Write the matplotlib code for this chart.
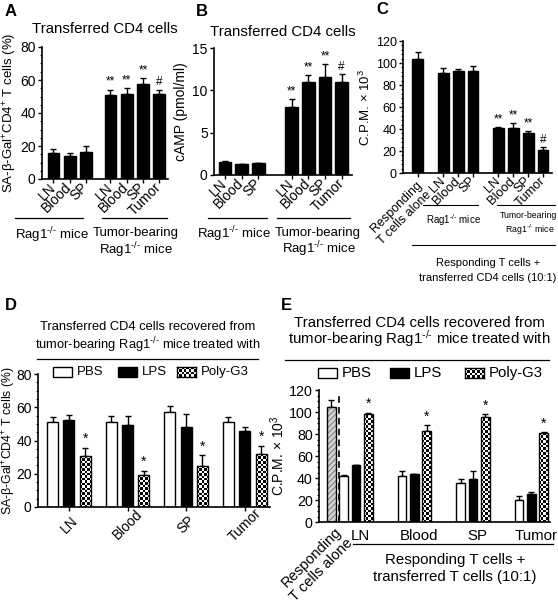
import numpy as np
import matplotlib
matplotlib.use("Agg")
import matplotlib.pyplot as plt
from matplotlib.lines import Line2D
from matplotlib.patches import Rectangle
from matplotlib.ticker import MultipleLocator

plt.rcParams["font.family"] = ["Liberation Sans", "DejaVu Sans"]
plt.rcParams["mathtext.fontset"] = "custom"
plt.rcParams["mathtext.rm"] = "Liberation Sans"
plt.rcParams["mathtext.it"] = "Liberation Sans:italic"
plt.rcParams["hatch.linewidth"] = 0.8

# ---------------- data ----------------
# panel A: SA-b-Gal+ CD4+ T cells (%)
a_labels = ["LN", "Blood", "SP", "LN", "Blood", "SP", "Tumor"]
a_vals = [15.9, 14.1, 16.5, 51.2, 51.6, 57.5, 51.6]
a_err = [2.4, 1.4, 3.8, 3.0, 3.6, 3.6, 2.6]
a_marks = ["", "", "", "**", "**", "**", "#"]

# panel B: cAMP (pmol/ml)
b_labels = ["LN", "Blood", "SP", "LN", "Blood", "SP", "Tumor"]
b_vals = [1.58, 1.26, 1.38, 8.0, 10.97, 11.57, 10.94]
b_err = [0.08, 0.08, 0.08, 0.96, 0.87, 1.54, 0.95]
b_marks = ["", "", "", "**", "**", "**", "#"]

# panel C: C.P.M. x 10^3
c_labels = ["Responding\nT cells alone", "LN", "Blood", "SP", "LN", "Blood", "SP", "Tumor"]
c_vals = [104, 91, 92.6, 92.9, 40.7, 41.3, 36.2, 20.5]
c_err = [6, 4, 1.8, 4.8, 1.5, 4.5, 2.4, 2.7]
c_marks = ["", "", "", "", "**", "**", "**", "#"]

# panels D and E
tissues = ["LN", "Blood", "SP", "Tumor"]
treatments = ["PBS", "LPS", "Poly-G3"]

d_pbs = [50.9, 51.3, 56.9, 51.3]
d_pbs_err = [3.0, 3.4, 3.6, 2.6]
d_lps = [52.3, 49.6, 48.2, 45.6]
d_lps_err = [3.2, 5.1, 7.7, 2.6]
d_poly = [30.6, 19.1, 24.5, 31.6]
d_poly_err = [5.0, 2.6, 6.7, 5.2]

e_alone_label = "Responding\nT cells alone"
e_alone = 104.8
e_alone_err = 6.1
e_pbs = [41.6, 42.0, 35.9, 20.4]
e_pbs_err = [0.9, 4.5, 3.6, 3.6]
e_lps = [51.7, 43.2, 39.2, 25.8]
e_lps_err = [0.0, 0.3, 7.0, 1.5]
e_poly = [98.2, 83.0, 95.7, 80.5]
e_poly_err = [1.2, 5.0, 2.2, 1.0]

RAG = "Rag1$^{\u2010/\u2010}$ mice"
SA_LABEL = "SA-β-Gal$^{+}$CD4$^{+}$ T cells (%)"
CPM_LABEL = "C.P.M. × 10$^{3}$"

# ---------------- helpers ----------------
W, H = 558, 606
fig = plt.figure(figsize=(W / 100, H / 100), dpi=100)


def fx(px):
    return px / W


def fy(py):
    return 1 - py / H


def px_box(l, t, r, b):
    return [l / W, 1 - b / H, (r - l) / W, (b - t) / H]


def ftext(x, y, s, size=9.5, **kw):
    kw.setdefault("ha", "center")
    kw.setdefault("va", "center")
    fig.text(fx(x), fy(y), s, fontsize=size, **kw)


def fline(x0, x1, y, lw=0.9):
    fig.add_artist(Line2D([fx(x0), fx(x1)], [fy(y), fy(y)],
                          transform=fig.transFigure, color="black", lw=lw))


def checker(nx, ny):
    X, Y = np.meshgrid(np.arange(nx), np.arange(ny))
    return (X + Y) % 2


def style_axes(ax, xlim, ymax, major, minor=None, fs=10):
    ax.set_xlim(*xlim)
    ax.set_ylim(0, ymax)
    for s in ["top", "right"]:
        ax.spines[s].set_visible(False)
    for s in ["left", "bottom"]:
        ax.spines[s].set_linewidth(1.2)
    ax.yaxis.set_major_locator(MultipleLocator(major))
    if minor:
        ax.yaxis.set_minor_locator(MultipleLocator(minor))
    ax.tick_params(axis="both", which="major", length=3, width=1,
                   labelsize=fs, pad=1.5)
    ax.tick_params(axis="y", which="minor", length=1.8, width=0.8)


def errs(ax, x, vals, err, cap=2.3):
    ax.errorbar(x, vals, yerr=[np.zeros(len(vals)), err], fmt="none",
                ecolor="black", elinewidth=1, capsize=cap, capthick=1, zorder=1)


def checker_bars(ax, x, vals, width, cell=2.4):
    bars = ax.bar(x, vals, width, facecolor="none", edgecolor="black",
                  lw=1, zorder=3)
    for r in bars:
        x0, y0 = r.get_x(), r.get_y()
        w, h = r.get_width(), r.get_height()
        (p0x, p0y), (p1x, p1y) = ax.transData.transform([(x0, y0), (x0 + w, y0 + h)])
        nx = max(1, int(round(abs(p1x - p0x) / cell)))
        ny = max(1, int(round(abs(p1y - p0y) / cell)))
        im = ax.imshow(checker(nx, ny), cmap="gray", vmin=0, vmax=1,
                       extent=(x0, x0 + w, y0, y0 + h), aspect="auto",
                       interpolation="nearest", zorder=2)
        im.set_clip_path(r)
    return bars


def marks(ax, x, vals, err, labels, off, size=8.5):
    for xi, v, e, m in zip(x, vals, err, labels):
        if m:
            ax.text(xi, v + e + off, m, ha="center", va="bottom", fontsize=size)


def slanted_label(ax, x, text, dx, dy, size):
    # two-line rotated label hanging below the x axis
    ax.annotate(text, xy=(x, 0), xytext=(dx, dy), textcoords="offset points",
                rotation=45, ha="right", va="center", rotation_mode="anchor",
                fontsize=size, annotation_clip=False)


def legend_row(y, xs, size=10):
    # white box, black box, checker box followed by labels
    bw, bh = 19, 10
    for i, (x, name) in enumerate(zip(xs, treatments)):
        if i < 2:
            fig.add_artist(Rectangle((fx(x), fy(y + bh / 2)), fx(bw), bh / H,
                                     transform=fig.transFigure,
                                     facecolor="white" if i == 0 else "black",
                                     edgecolor="black", lw=1))
        else:
            lax = fig.add_axes(px_box(x, y - bh / 2, x + bw, y + bh / 2))
            lax.imshow(checker(8, 4), cmap="gray", vmin=0, vmax=1,
                       aspect="auto", interpolation="nearest")
            lax.set_xticks([])
            lax.set_yticks([])
            for s in lax.spines.values():
                s.set_linewidth(1)
        ftext(x + bw + 5, y, name, size=size, ha="left")


# ---------------- panel A ----------------
ax = fig.add_axes(px_box(42, 47, 168, 179))
xa = np.r_[np.arange(3), np.arange(4) + 3.5]
style_axes(ax, (-0.7, 7.04), 80, 20, 5)
errs(ax, xa, a_vals, a_err)
ax.bar(xa, a_vals, 0.72, color="black", edgecolor="black", lw=1, zorder=2)
marks(ax, xa, a_vals, a_err, a_marks, 1.0)
ax.set_xticks(xa)
ax.set_xticklabels(a_labels, rotation=45, ha="right", va="center",
                   rotation_mode="anchor")
ax.set_ylabel(SA_LABEL, fontsize=9.5, labelpad=0.5)
ax.set_title("Transferred CD4 cells", fontsize=10.8, pad=10)
fline(15, 83, 218)
fline(102, 167, 218)
ftext(52, 235, RAG)
ftext(136, 233, "Tumor-bearing")
ftext(136, 250, RAG)
ftext(11, 12, "A", size=12, weight="bold")

# ---------------- panel B ----------------
ax = fig.add_axes(px_box(214, 48, 352, 175))
xb = np.r_[np.arange(3), np.arange(4) + 4]
style_axes(ax, (-0.66, 7.62), 15, 5)
errs(ax, xb, b_vals, b_err)
ax.bar(xb, b_vals, 0.76, color="black", edgecolor="black", lw=1, zorder=2)
marks(ax, xb, b_vals, b_err, b_marks, 0.2)
ax.set_xticks(xb)
ax.set_xticklabels(b_labels, rotation=45, ha="right", va="center",
                   rotation_mode="anchor")
ax.set_ylabel("cAMP (pmol/ml)", fontsize=10, labelpad=3)
ax.set_title("Transferred CD4 cells", fontsize=10.8, pad=9)
fline(208, 267, 218)
fline(277, 350, 218)
ftext(234, 234, RAG)
ftext(318, 233, "Tumor-bearing")
ftext(319, 249, RAG)
ftext(202, 12, "B", size=12, weight="bold")

# ---------------- panel C ----------------
ax = fig.add_axes(px_box(403, 41, 552, 173))
xc = np.r_[0, np.arange(3) + 1.7, np.arange(4) + 5.4]
style_axes(ax, (-1.0, 9.0), 120, 20, 4, fs=9)
errs(ax, xc, c_vals, c_err)
ax.bar(xc, c_vals, 0.73, color="black", edgecolor="black", lw=1, zorder=2)
marks(ax, xc, c_vals, c_err, c_marks, 1.0)
ax.set_xticks(xc)
ax.set_xticklabels([""] + c_labels[1:], rotation=45, ha="right", va="center",
                   rotation_mode="anchor", fontsize=9.3)
slanted_label(ax, xc[0], c_labels[0], 5, -11, 9)
ax.set_ylabel(CPM_LABEL, fontsize=9.5, labelpad=2)
fline(423, 478, 205, lw=0.8)
fline(497, 555, 205, lw=0.8)
ftext(453, 220, RAG, size=7)
ftext(528, 215, "Tumor-bearing", size=6.3)
ftext(530, 230, RAG, size=6.3)
fline(412, 555, 245, lw=0.8)
ftext(488, 263, "Responding T cells +", size=8)
ftext(488, 278, "transferred CD4 cells (10:1)", size=8)
ftext(382, 10, "C", size=12, weight="bold")

# ---------------- panel D ----------------
ax = fig.add_axes(px_box(38, 374, 270, 507))
dc = 1 + 3.6 * np.arange(len(tissues))
style_axes(ax, (-0.9, 13.35), 80, 20, 5)
errs(ax, dc - 1, d_pbs, d_pbs_err)
errs(ax, dc, d_lps, d_lps_err)
errs(ax, dc + 1, d_poly, d_poly_err)
ax.bar(dc - 1, d_pbs, 0.68, color="white", edgecolor="black", lw=1, zorder=2)
ax.bar(dc, d_lps, 0.68, color="black", edgecolor="black", lw=1, zorder=2)
checker_bars(ax, dc + 1, d_poly, 0.68)
marks(ax, dc + 1, d_poly, d_poly_err, ["*"] * 4, 1.0, size=10)
ax.set_xlim(-0.9, 13.35)
ax.set_ylim(0, 80)
ax.set_xticks(dc)
ax.set_xticklabels(tissues, rotation=45, ha="center", va="center")
ax.tick_params(axis="x", pad=10)
ax.set_ylabel(SA_LABEL, fontsize=8.8)
ax.yaxis.set_label_coords(-0.088, 0.5)
ftext(148, 327, "Transferred CD4 cells recovered from", size=9.3)
ftext(148, 345, "tumor-bearing " + RAG + " treated with", size=9.3)
fline(37, 258, 359)
legend_row(372, [53, 118, 177], size=9.5)
ftext(11, 306, "D", size=12, weight="bold")

# ---------------- panel E ----------------
ax = fig.add_axes(px_box(319, 390, 550, 522))
ec = 2 + 4.75 * np.arange(len(tissues))
style_axes(ax, (-1.0, 17.76), 120, 20, 5, fs=10.3)
errs(ax, [0], [e_alone], [e_alone_err], cap=2)
errs(ax, ec - 1, e_pbs, e_pbs_err, cap=2)
errs(ax, ec, e_lps, e_lps_err, cap=2)
errs(ax, ec + 1, e_poly, e_poly_err, cap=2)
ax.bar([0], [e_alone], 0.7, facecolor="#d4d4d4", edgecolor="#808080",
       hatch="//////", lw=0, zorder=2)
ax.bar([0], [e_alone], 0.7, facecolor="none", edgecolor="black", lw=1, zorder=3)
ax.bar(ec - 1, e_pbs, 0.7, color="white", edgecolor="black", lw=1, zorder=2)
ax.bar(ec, e_lps, 0.7, color="black", edgecolor="black", lw=1, zorder=2)
checker_bars(ax, ec + 1, e_poly, 0.7)
marks(ax, ec + 1, e_poly, e_poly_err, ["*"] * 4, 1.5, size=10)
ax.plot([0.6, 0.6], [0, 118], ls=(0, (4, 2.5)), color="black", lw=1.2, zorder=4)
ax.set_xlim(-1.0, 17.76)
ax.set_ylim(0, 120)
ax.set_xticks(np.r_[0, ec + 0.35])
ax.set_xticklabels([""] + tissues, fontsize=10.8)
ax.tick_params(axis="x", length=0, pad=5)
slanted_label(ax, 0, e_alone_label, 10, -9.5, 10.5)
ax.set_ylabel(CPM_LABEL, fontsize=10, labelpad=1)
ftext(419, 323, "Transferred CD4 cells recovered from", size=10.8)
ftext(419, 339, "tumor-bearing " + RAG + " treated with", size=10.8)
fline(285, 549, 360)
legend_row(373, [318, 390, 465], size=10.8)
fline(353, 553, 544)
ftext(455, 560, "Responding T cells +", size=10.8)
ftext(455, 577, "transferred T cells (10:1)", size=10.8)
ftext(286, 306, "E", size=12, weight="bold")

fig.savefig("out.png", dpi=100)
